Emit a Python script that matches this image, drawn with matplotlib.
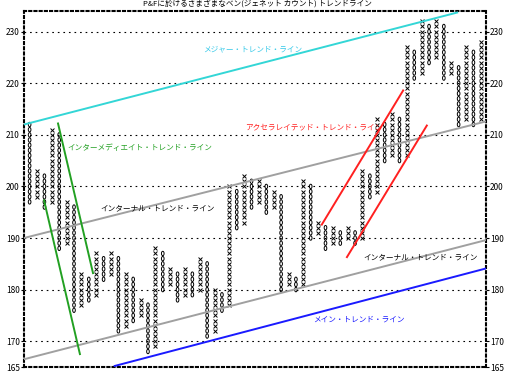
import matplotlib

matplotlib.use("Agg")
import matplotlib.pyplot as plt
import numpy as np
from matplotlib.path import Path

plt.rcParams["font.family"] = ["Noto Sans CJK JP", "DejaVu Sans"]

# point & figure columns, first column is O, then alternating
first_kind = "O"
col_low = [197, 198, 196, 197, 188, 189, 176, 177, 178, 179, 182, 183, 172, 173, 174, 175,
           168, 169, 180, 181, 178, 179, 179, 180, 171, 172, 176, 177, 192, 193, 196, 197,
           195, 196, 180, 181, 180, 181, 190, 191, 188, 189, 189, 190, 189, 190, 198, 199,
           205, 206, 205, 206, 221, 222, 224, 225, 221, 222, 212, 213, 212, 213]
col_high = [212, 203, 202, 211, 210, 197, 196, 183, 182, 187, 186, 187, 186, 183, 182, 178,
            177, 188, 187, 184, 183, 184, 183, 186, 185, 180, 179, 200, 199, 202, 201, 201,
            200, 199, 198, 183, 182, 201, 200, 193, 192, 192, 191, 192, 191, 203, 202, 213,
            212, 214, 213, 227, 226, 232, 231, 232, 231, 224, 223, 227, 226, 228]

y_ticks = [165, 170, 180, 190, 200, 210, 220, 230]
grid_levels = [170, 180, 190, 200, 210, 220, 230]

# trend lines: (col0, price0, col1, price1)
major_line = [-0.76, 212.0, 57.8, 233.7]
internal_upper = [-0.76, 190.0, 61.7, 212.6]
internal_lower = [-0.76, 166.5, 61.7, 189.6]
main_line = [11.5, 165.2, 61.7, 184.1]
inter_a = [1.95, 197.3, 6.8, 167.5]
inter_b = [3.84, 212.2, 8.57, 183.2]
accel_a = [39.5, 192.6, 50.5, 218.6]
accel_b = [42.9, 186.3, 53.7, 211.8]

title = "P&Fに於けるさまざまなベン(ジェネット カウント) トレンドライン"

fig = plt.figure(figsize=(5.09, 3.74), dpi=100)
ax = fig.add_axes([24 / 509, 1 - 367 / 374, 462 / 509, 356 / 374])

xs_x, ys_x, xs_o, ys_o = [], [], [], []
for i, (lo, hi) in enumerate(zip(col_low, col_high)):
    kind = first_kind if i % 2 == 0 else ("X" if first_kind == "O" else "O")
    boxes = np.arange(lo, hi + 1)
    if kind == "X":
        xs_x += [i] * len(boxes)
        ys_x += list(boxes)
    else:
        xs_o += [i] * len(boxes)
        ys_o += list(boxes)

# narrow "0"-like ring for the O boxes
circle = Path.unit_circle()
ring = Path(circle.vertices * np.array([0.6, 1.0]), circle.codes)

ax.scatter(xs_x, ys_x, marker="x", s=8, linewidths=0.7, color="black", zorder=3)
ax.scatter(xs_o, ys_o, marker=ring, s=10, linewidths=0.7, facecolors="none",
           edgecolors="black", zorder=3)

for seg, color in [(major_line, "#33d6d6"), (internal_upper, "#a0a0a0"),
                   (internal_lower, "#a0a0a0"), (main_line, "#1a1aff"),
                   (inter_a, "#22a022"), (inter_b, "#22a022"),
                   (accel_a, "#ff2020"), (accel_b, "#ff2020")]:
    ax.plot([seg[0], seg[2]], [seg[1], seg[3]], color=color, linewidth=1.4, zorder=4)

lab_kw = dict(fontsize=5.5, va="center", zorder=5)
ax.text(30.1, 226.5, "メジャー・トレンド・ライン", color="#33c8e8", ha="center", **lab_kw)
ax.text(5.05, 207.4, "インターメディエイト・トレンド・ライン", color="#22a022", ha="left", **lab_kw)
ax.text(9.5, 195.7, "インターナル・トレンド・ライン", color="black", ha="left", **lab_kw)
ax.text(29.1, 211.4, "アクセラレイテッド・トレンド・ライン", color="#ff2020", ha="left", **lab_kw)
ax.text(45.1, 186.3, "インターナル・トレンド・ライン", color="black", ha="left", **lab_kw)
ax.text(38.3, 174.1, "メイン・トレンド・ライン", color="#1a1aff", ha="left", **lab_kw)

for lv in grid_levels:
    ax.axhline(lv, color="black", linewidth=0.8, linestyle=(0, (1.5, 3.5)), zorder=1)

ax.set_xlim(-0.76, 61.7)
ax.set_ylim(165, 234)
ax.set_xticks([])
ax.set_yticks(y_ticks)
ax.tick_params(axis="y", left=True, right=True, labelleft=True, labelright=True,
               length=2, labelsize=6, pad=1)
for spine in ax.spines.values():
    spine.set_linestyle((0, (1, 1.5)))
    spine.set_linewidth(1.5)

fig.text(257 / 509, 1 - 5 / 374, title, fontsize=5.5, ha="center", va="center")
fig.savefig("out.png", dpi=100)
